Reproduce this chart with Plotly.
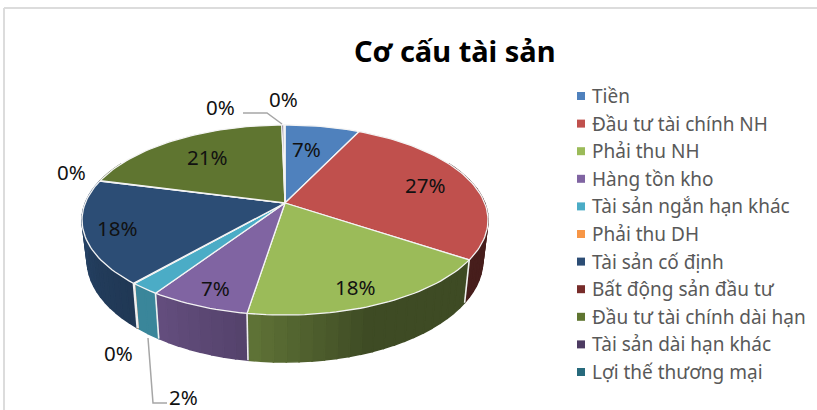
import math
import plotly.graph_objects as go

# ---- data ----
categories = ["Tiền", "Đầu tư tài chính NH", "Phải thu NH", "Hàng tồn kho",
              "Tài sản ngắn hạn khác", "Phải thu DH", "Tài sản cố định",
              "Bất động sản đầu tư", "Đầu tư tài chính dài hạn",
              "Tài sản dài hạn khác", "Lợi thế thương mại"]
values = [7.1, 27.3, 18.1, 6.8, 2.0, 0.1, 17.6, 0.1, 20.6, 0.2, 0.1]
title_text = "Cơ cấu tài sản"

# ---- styles / layout ----
colors = ["#4f81bd", "#c0504d", "#9bbb59", "#8064a2", "#4bacc6", "#f79646",
          "#2c4d75", "#772c2a", "#5f7530", "#4d3b62", "#276a7c"]
side_shade = [(.6, .6), (.37, .37), (.62, .40), (.78, .66), (.78, .78), (.6, .6),
              (.92, .72), (.6, .6), (.6, .6), (.6, .6), (.6, .6)]
label_x = [306, 425, 355, 215, 183, 118, 117, 71, 207, 220, 283]
label_y = [149, 185, 287, 288, 397, 353, 228, 172, 157, 107, 99]

CX, CY, R, A, K, DEPTH = 285, 203, 199.7, 92, 0.179, 38.6
FONT = "Noto Sans"


def project(frac):
    """Fraction of the pie (clockwise from 12 o'clock) to a pixel position on the top rim."""
    t = 2 * math.pi * frac
    u, v = math.sin(t), -math.cos(t)
    d = 1 - K * v
    return R * u / d, A * v / d, d


def top_pt(frac):
    x, y, _ = project(frac)
    return CX + x, CY + y


def low_pt(frac):
    x, y, d = project(frac)
    return CX + x * 0.975, CY + y + DEPTH / d


def mix(hex_color, f):
    r, g, b = (int(hex_color[i:i + 2], 16) for i in (1, 3, 5))
    return f"rgb({r * f:.0f},{g * f:.0f},{b * f:.0f})"


total = sum(values)
fig = go.Figure()
bounds = [0.0]
for v in values:
    bounds.append(bounds[-1] + v / total)

# side walls, segmented to imitate the gradient
for i, col in enumerate(colors):
    a, b = bounds[i], bounds[i + 1]
    n = max(1, int((b - a) * 120))
    for j in range(n):
        f0, f1 = a + (b - a) * j / n, a + (b - a) * (j + 1) / n
        if math.cos(2 * math.pi * (f0 + f1) / 2) > 0.45:
            continue
        # t = 0 at the left-hand end of the slice on screen
        t = 1 - (j + .5) / n
        t = min(1, t / .45) if i == 2 else t
        shade = side_shade[i][0] + (side_shade[i][1] - side_shade[i][0]) * t
        c = mix(col, shade)
        p0, p1, q1, q0 = top_pt(f0), top_pt(f1), low_pt(f1), low_pt(f0)
        fig.add_trace(go.Scatter(
            x=[p0[0], p1[0], q1[0], q0[0], p0[0]], y=[p0[1], p1[1], q1[1], q0[1], p0[1]],
            mode="lines", fill="toself", fillcolor=c, line=dict(color=c, width=1.5),
            hoverinfo="skip", showlegend=False))

# white seams on the wall
for i in range(len(values)):
    f = bounds[i]
    if 0.28 < f < 0.78:
        p, q = top_pt(f), low_pt(f)
        fig.add_trace(go.Scatter(x=[p[0], q[0]], y=[p[1], q[1]], mode="lines",
                                 line=dict(color="#f0f0f0", width=1.6),
                                 hoverinfo="skip", showlegend=False))

# top faces
for i, col in enumerate(colors):
    a, b = bounds[i], bounds[i + 1]
    n = max(2, int((b - a) * 240))
    pts = [top_pt(a + (b - a) * j / n) for j in range(n + 1)]
    xs = [CX] + [p[0] for p in pts] + [CX]
    ys = [CY] + [p[1] for p in pts] + [CY]
    fig.add_trace(go.Scatter(x=xs, y=ys, mode="lines", fill="toself", fillcolor=col,
                             line=dict(color="#f4f4f4", width=1.3),
                             name=categories[i], hovertemplate=f"{categories[i]}: {values[i]}%<extra></extra>",
                             showlegend=False))

# leader lines
for lx, ly in (([243, 267, 282], [113, 113, 124]), ([148, 153, 167], [338, 403, 403])):
    fig.add_trace(go.Scatter(x=lx, y=ly, mode="lines", line=dict(color="#a6a6a6", width=1.5),
                             hoverinfo="skip", showlegend=False))

# legend swatches
LEG_X, LEG_Y, LEG_STEP = 581, 96, 27.6
fig.add_trace(go.Scatter(
    x=[LEG_X] * len(categories), y=[LEG_Y + LEG_STEP * i for i in range(len(categories))],
    mode="markers", marker=dict(symbol="square", size=8, color=colors, line=dict(width=0)),
    hoverinfo="skip", showlegend=False))

ann = []
for i, c in enumerate(categories):
    ann.append(dict(x=LEG_X + 9, y=LEG_Y + LEG_STEP * i, text=c, xref="x", yref="y",
                    xanchor="left", yanchor="middle", showarrow=False,
                    font=dict(family=FONT, size=19, color="#595959")))
for i, v in enumerate(values):
    ann.append(dict(x=label_x[i], y=label_y[i], text=f"{round(v)}%", xref="x", yref="y",
                    xanchor="center", yanchor="middle", showarrow=False,
                    font=dict(family=FONT, size=20.5, color="#111111")))
ann.append(dict(x=455, y=50, text=f"<b>{title_text}</b>", xref="x", yref="y",
                xanchor="center", yanchor="middle", showarrow=False,
                font=dict(family=FONT, size=29, color="#000000")))

fig.update_layout(
    width=817, height=410, margin=dict(l=0, r=0, t=0, b=0),
    paper_bgcolor="white", plot_bgcolor="white", showlegend=False,
    xaxis=dict(range=[0, 817], visible=False, fixedrange=True),
    yaxis=dict(range=[410, 0], visible=False, fixedrange=True),
    annotations=ann,
    shapes=[
        dict(type="line", x0=4, x1=817, y0=8, y1=8, xref="x", yref="y", line=dict(color="#dcdcdc", width=2)),
        dict(type="line", x0=4, x1=4, y0=8, y1=410, xref="x", yref="y", line=dict(color="#dcdcdc", width=2)),
    ],
)
fig.write_html("out.html", config=dict(displayModeBar=False),
               post_script="document.body.style.margin='0';document.documentElement.style.overflow='hidden';")
